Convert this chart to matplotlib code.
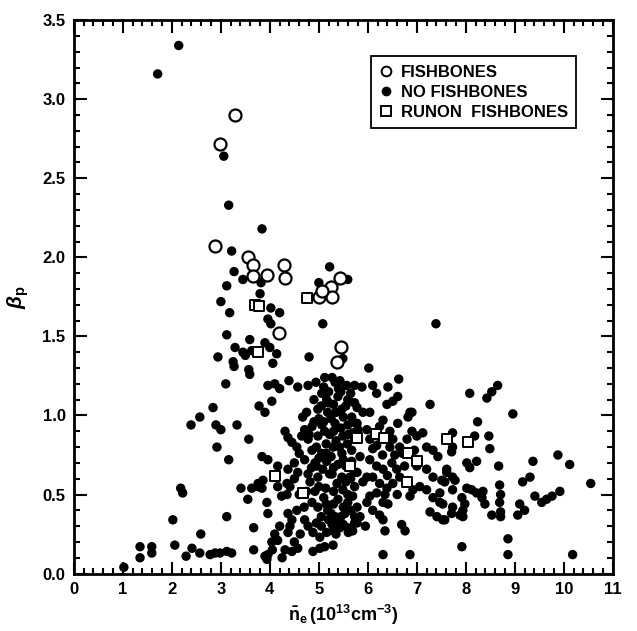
import matplotlib
matplotlib.use("Agg")
import matplotlib.pyplot as plt
from matplotlib.ticker import MultipleLocator, FormatStrFormatter
from matplotlib.lines import Line2D

# Czcionki: pogrubiony bezszeryfowy jak w oryginale
plt.rcParams["font.family"] = ["Liberation Sans", "DejaVu Sans"]
plt.rcParams["font.weight"] = "bold"
plt.rcParams["mathtext.fontset"] = "custom"
plt.rcParams["mathtext.rm"] = "Liberation Sans:bold"
plt.rcParams["mathtext.it"] = "Liberation Sans:bold:italic"
plt.rcParams["mathtext.bf"] = "Liberation Sans:bold"

# 1) Dane: FISHBONES (puste kolka)
fish_x = [2.98, 3.28, 2.88, 3.55, 3.65, 3.65, 3.94, 4.29, 4.30, 4.18,
          5.43, 5.24, 5.27, 5.00, 5.06, 5.45, 5.38]
fish_y = [2.72, 2.90, 2.07, 2.00, 1.95, 1.88, 1.89, 1.95, 1.87, 1.52,
          1.87, 1.81, 1.75, 1.75, 1.79, 1.43, 1.34]

# 2) Dane: RUNON FISHBONES (puste kwadraty)
runon_x = [3.69, 3.78, 3.75, 4.10, 4.68, 5.77, 5.63, 6.16, 6.33, 6.82,
           7.00, 6.79, 7.61, 8.04, 4.75]
runon_y = [1.70, 1.69, 1.40, 0.62, 0.51, 0.86, 0.68, 0.88, 0.86, 0.76,
           0.71, 0.58, 0.85, 0.83, 1.74]

# 3) Dane: NO FISHBONES (pelne kropki)
nofish_x = [
    # gorna i lewa czesc
    1.71, 2.14, 3.06, 3.16, 3.84, 3.22, 3.27, 3.45, 3.12, 3.82, 3.80, 3.00,
    3.18, 4.02, 4.20, 3.96, 4.02, 5.08, 5.22, 5.00, 5.59,
    3.12, 3.29, 3.45, 3.50, 3.59, 3.90, 4.00, 4.14, 4.06, 3.63, 2.94, 3.25,
    3.27, 3.57, 3.59, 4.80, 5.49, 6.02, 7.39,
    3.10, 3.96, 4.10, 4.20, 4.39, 4.57, 4.78, 4.94, 5.12, 5.27, 5.33, 5.43,
    5.57, 5.73, 5.88, 6.10, 6.18, 6.41, 6.63,
    3.78, 3.90, 4.04, 2.84, 2.57, 2.39, 2.90, 3.00, 3.33, 3.57, 2.92, 3.16,
    3.84, 3.96, 2.18, 2.22, 3.41, 3.55, 3.63, 3.76, 3.86, 3.94, 3.96, 3.67,
    2.02, 3.12, 2.59, 2.06, 2.41, 2.29, 1.35, 1.35, 1.59, 1.59, 1.02, 2.57,
    2.78, 2.88, 2.98, 3.12, 3.22, 3.67, 3.90,
    # gesty rdzen
    4.67, 5.06, 5.16, 5.39, 5.59, 5.73, 4.98, 5.18, 5.47, 5.67, 4.86, 4.71,
    5.06, 5.33, 5.59, 5.80, 4.65, 4.78, 4.98, 5.22, 5.49, 5.73, 4.31, 4.37,
    4.45, 4.55, 4.86, 5.06, 5.29, 5.47, 5.67, 4.71, 4.92, 5.16, 5.39, 5.67,
    4.16, 4.37, 4.57, 4.78, 4.98, 5.27, 5.47, 5.73,
    5.10, 5.30, 5.00, 5.25, 5.45, 5.12, 5.35, 5.15, 5.00, 5.25, 5.55, 4.90,
    5.50, 5.20, 5.40, 4.60, 4.85, 5.08, 5.58, 4.50,
    4.75, 4.90, 5.05, 5.20, 5.35, 5.55, 5.65, 5.45, 4.95, 5.10, 5.30, 5.42,
    5.60, 5.75, 5.15, 4.80, 5.50, 4.95, 5.30, 5.65,
    # dolna czesc rdzenia
    3.76, 3.84, 4.16, 4.35, 4.41, 4.24, 4.35, 4.82, 4.92, 5.14, 4.55, 4.37,
    4.45, 4.86, 4.98, 5.18, 5.33, 5.53, 5.73, 4.71, 4.78, 4.88, 5.02, 5.16,
    5.27, 5.43, 5.59, 5.73, 4.41, 4.37, 4.10, 4.16, 4.04, 4.31, 4.45, 4.57,
    3.96, 3.94, 4.88, 5.02, 5.12, 5.29, 5.22, 5.37, 5.49, 5.59, 5.73, 5.39,
    5.59, 5.10, 5.30, 5.50, 5.20, 5.40, 5.05, 5.60, 5.35, 4.62, 4.50, 4.20,
    4.25, 4.05,
    5.15, 5.25, 5.45, 5.65, 5.05, 4.95, 5.50, 5.30, 4.70, 4.60, 4.50, 4.75,
    5.00, 5.30, 5.55,
    # prawa czesc rdzenia
    6.39, 6.51, 5.63, 5.78, 5.90, 6.04, 7.27, 6.90, 6.82, 6.61, 6.31, 6.24,
    5.78, 5.69, 5.98, 6.04, 6.18, 6.45, 6.51, 6.45, 6.90, 7.00, 7.12, 6.65,
    6.71, 7.20, 7.33, 7.43, 5.84, 6.04, 6.18, 6.31, 6.49, 6.59, 6.65, 7.00,
    7.20, 7.33, 5.63, 5.98, 7.61, 6.61, 6.86,
    5.78, 5.90, 6.10, 6.24, 6.39, 6.51, 6.18, 6.04, 5.98, 5.69, 5.78, 5.84,
    5.78, 5.69, 6.31, 6.41, 6.24, 6.31, 6.35, 6.69, 6.76, 6.86, 6.92, 7.06,
    7.20, 7.33, 7.47, 7.27, 7.41, 7.53, 6.31, 6.86, 7.51,
    6.10, 6.30, 6.40, 6.55, 6.80, 6.95, 6.75, 6.20, 6.35, 6.60, 6.10, 5.95,
    # prawa strona
    8.65, 8.53, 8.43, 8.08, 8.96, 8.24, 7.73, 8.18, 8.47, 8.49, 7.73, 7.71,
    8.02, 8.08, 8.22, 8.67, 9.37, 9.88, 10.12, 10.55, 7.61, 7.73, 7.78, 7.57,
    9.16, 9.31, 8.69, 8.71, 8.69, 7.47, 7.53, 7.73, 8.02, 8.12, 8.22, 8.35,
    8.33, 8.39, 7.92, 7.98, 7.94, 7.88, 7.94, 7.73, 7.71, 7.57, 9.41, 9.55,
    9.65, 9.76, 9.92, 9.10, 9.20, 9.06, 8.53, 8.71, 8.71, 8.86, 7.92, 8.86,
    10.18,
]
nofish_y = [
    3.16, 3.34, 2.64, 2.33, 2.18, 2.04, 1.91, 1.86, 1.82, 1.84, 1.77, 1.72,
    1.65, 1.68, 1.65, 1.61, 1.58, 1.58, 1.94, 1.84, 1.86,
    1.51, 1.43, 1.40, 1.38, 1.48, 1.46, 1.43, 1.39, 1.33, 1.41, 1.37, 1.34,
    1.31, 1.29, 1.26, 1.37, 1.36, 1.30, 1.58,
    1.20, 1.19, 1.20, 1.17, 1.22, 1.18, 1.19, 1.21, 1.24, 1.24, 1.21, 1.22,
    1.19, 1.19, 1.18, 1.19, 1.14, 1.18, 1.23,
    1.06, 1.02, 1.09, 1.05, 0.99, 0.94, 0.94, 0.91, 0.94, 0.85, 0.80, 0.72,
    0.74, 0.72, 0.54, 0.51, 0.54, 0.47, 0.54, 0.55, 0.59, 0.45, 0.38, 0.29,
    0.34, 0.36, 0.25, 0.18, 0.16, 0.11, 0.17, 0.10, 0.17, 0.13, 0.04, 0.13,
    0.12, 0.13, 0.13, 0.14, 0.13, 0.15, 0.11,
    0.99, 1.14, 1.10, 1.12, 1.10, 1.08, 1.04, 1.02, 1.04, 0.99, 0.93, 0.91,
    0.94, 0.95, 0.94, 0.91, 0.87, 0.85, 0.87, 0.88, 0.87, 0.85, 0.90, 0.86,
    0.83, 0.80, 0.78, 0.76, 0.80, 0.76, 0.78, 0.72, 0.70, 0.71, 0.69, 0.71,
    0.68, 0.66, 0.64, 0.63, 0.61, 0.63, 0.61, 0.64,
    1.18, 1.07, 0.98, 0.98, 0.92, 0.90, 0.84, 0.82, 0.73, 0.74, 0.68, 0.96,
    0.99, 1.15, 1.17, 0.76, 0.67, 0.66, 0.82, 0.70,
    1.02, 1.10, 1.06, 1.08, 1.02, 1.06, 1.14, 1.15, 0.80, 0.96, 0.90, 0.80,
    0.88, 0.95, 0.76, 0.88, 0.72, 0.68, 0.67, 0.60,
    0.57, 0.54, 0.55, 0.57, 0.55, 0.49, 0.50, 0.58, 0.52, 0.54, 0.40, 0.38,
    0.34, 0.45, 0.42, 0.40, 0.36, 0.38, 0.36, 0.34, 0.30, 0.26, 0.23, 0.26,
    0.31, 0.29, 0.29, 0.32, 0.30, 0.26, 0.25, 0.21, 0.20, 0.15, 0.14, 0.16,
    0.12, 0.09, 0.14, 0.16, 0.17, 0.18, 0.63, 0.57, 0.53, 0.50, 0.55, 0.47,
    0.45, 0.48, 0.44, 0.42, 0.34, 0.33, 0.30, 0.26, 0.25, 0.25, 0.20, 0.30,
    0.10, 0.15,
    0.44, 0.38, 0.36, 0.40, 0.36, 0.32, 0.31, 0.27, 0.42, 0.50, 0.60, 0.52,
    0.55, 0.52, 0.58,
    1.07, 1.09, 1.09, 1.05, 1.02, 1.02, 1.07, 1.02, 0.99, 0.95, 0.97, 0.93,
    0.95, 0.89, 0.91, 0.85, 0.81, 0.90, 0.85, 0.80, 0.90, 0.87, 0.89, 0.80,
    0.76, 0.80, 0.78, 0.74, 0.74, 0.72, 0.68, 0.66, 0.70, 0.66, 0.61, 0.68,
    0.66, 0.61, 0.61, 0.61, 0.66, 1.12, 1.02,
    0.64, 0.58, 0.61, 0.57, 0.54, 0.57, 0.51, 0.49, 0.45, 0.49, 0.42, 0.36,
    0.32, 0.27, 0.45, 0.44, 0.37, 0.34, 0.27, 0.31, 0.27, 0.49, 0.53, 0.55,
    0.53, 0.48, 0.45, 0.39, 0.36, 0.34, 0.12, 0.12, 0.59,
    0.79, 0.75, 0.62, 0.75, 0.85, 0.78, 0.68, 0.87, 0.50, 0.50, 0.40, 0.30,
    1.19, 1.15, 1.11, 1.14, 1.01, 0.96, 0.89, 0.87, 0.87, 0.79, 0.80, 0.77,
    0.70, 0.67, 0.71, 0.68, 0.71, 0.75, 0.69, 0.57, 0.64, 0.61, 0.59, 0.58,
    0.58, 0.61, 0.56, 0.50, 0.45, 0.51, 0.44, 0.53, 0.54, 0.53, 0.51, 0.52,
    0.48, 0.44, 0.48, 0.44, 0.40, 0.37, 0.36, 0.42, 0.38, 0.34, 0.49, 0.45,
    0.47, 0.49, 0.52, 0.44, 0.40, 0.37, 0.37, 0.39, 0.36, 0.22, 0.17, 0.12,
    0.12,
]

legend_labels = ["FISHBONES", "NO FISHBONES", "RUNON  FISHBONES"]

# 4) Rysunek
fig = plt.figure(figsize=(6.37, 6.31), dpi=100)
ax = fig.add_axes([0.116, 0.091, 0.846, 0.877])

ax.scatter(nofish_x, nofish_y, s=46, c="black", edgecolors="none", zorder=2)
ax.scatter(runon_x, runon_y, s=55, marker="s", facecolors="white",
           edgecolors="black", linewidths=1.4, zorder=3)
ax.scatter(fish_x, fish_y, s=75, marker="o", facecolors="white",
           edgecolors="black", linewidths=1.6, zorder=3)

ax.set_xlim(0, 11)
ax.set_ylim(0, 3.5)
ax.xaxis.set_major_locator(MultipleLocator(1))
ax.xaxis.set_minor_locator(MultipleLocator(0.2))
ax.yaxis.set_major_locator(MultipleLocator(0.5))
ax.yaxis.set_minor_locator(MultipleLocator(0.1))
ax.yaxis.set_major_formatter(FormatStrFormatter("%.1f"))
ax.tick_params(which="both", direction="in", top=True, right=True,
               width=1.5, labelsize=12)
ax.tick_params(which="major", length=9, pad=6)
ax.tick_params(which="minor", length=4.5)
for sp in ax.spines.values():
    sp.set_linewidth(2)

ax.set_xlabel(r"$\bar{\mathrm{n}}_\mathrm{e}\,(10^{13}\mathrm{cm}^{-3})$",
              fontsize=13, labelpad=4)
ax.set_ylabel(r"$\beta_\mathrm{p}$", fontsize=15, labelpad=8)

# 5) Legenda
handles = [
    Line2D([], [], ls="none", marker="o", ms=7, mfc="white", mec="black", mew=1.4),
    Line2D([], [], ls="none", marker="o", ms=6, mfc="black", mec="black"),
    Line2D([], [], ls="none", marker="s", ms=7, mfc="white", mec="black", mew=1.4),
]
leg = ax.legend(handles, legend_labels, loc="upper left",
                bbox_to_anchor=(0.535, 0.95), fancybox=False, framealpha=1,
                edgecolor="black", fontsize=12, handlelength=0.8,
                handletextpad=0.5, labelspacing=0.3, borderpad=0.5)
leg.get_frame().set_linewidth(1.3)

fig.savefig("out.png", dpi=100)
